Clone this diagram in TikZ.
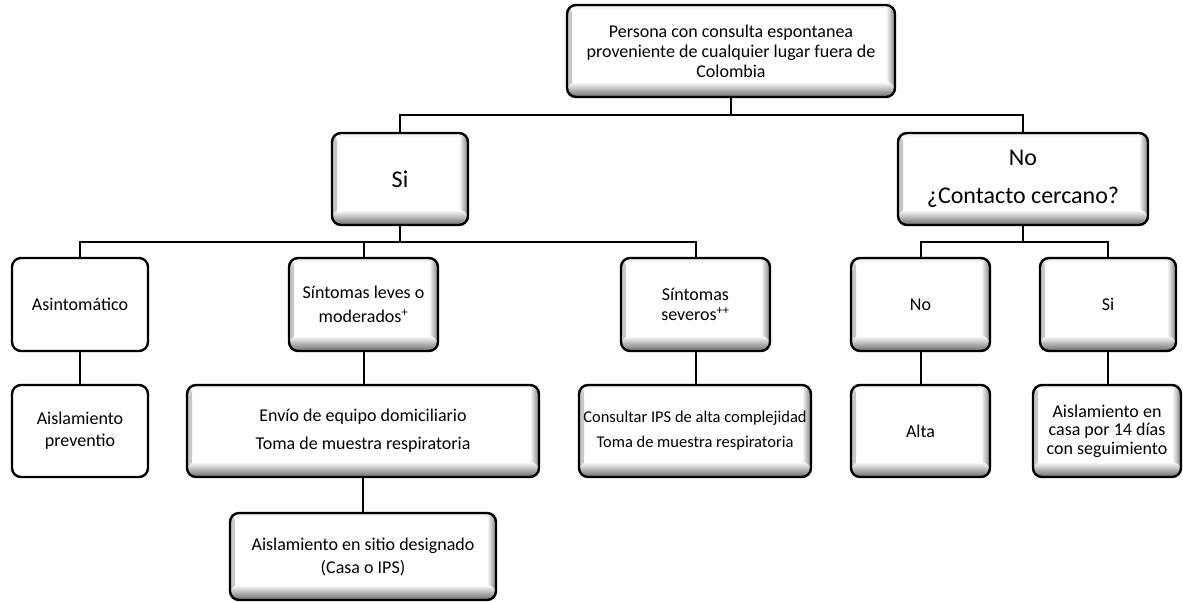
\documentclass[tikz,border=0pt]{standalone}
\usepackage{fontspec}
\setmainfont{Carlito}
\begin{document}
\begin{tikzpicture}[x=1pt,y=-1pt,
  box/.style={draw=black, line width=2.4pt, rounded corners=9pt, fill=white,
     inner sep=0pt, align=center, font=\fontsize{18}{20}\selectfont},
  bevel/.style={box, path picture={
     \shade[left color=black!22, right color=white]
       (path picture bounding box.north west) rectangle ([xshift=5pt]path picture bounding box.south west);
     \shade[top color=black!12, bottom color=white]
       (path picture bounding box.north west) rectangle ([yshift=-4pt]path picture bounding box.north east);
     \shade[left color=white, right color=black!50]
       ([xshift=-9pt]path picture bounding box.north east) rectangle (path picture bounding box.south east);
     \shade[top color=white, bottom color=black!58]
       ([yshift=15pt]path picture bounding box.south west) rectangle (path picture bounding box.south east);
  }},
  plainbox/.style={box},
  link/.style={line width=2pt, draw=black}
]
\useasboundingbox (0,0) rectangle (1183,602);

% level 0
\node[bevel, minimum width=328pt, minimum height=92pt] (top) at (731,51)
  {Persona con consulta espontanea\\proveniente de cualquier lugar fuera de\\Colombia};

% level 1
\node[bevel, minimum width=136pt, minimum height=92pt, font=\fontsize{24}{30}\selectfont] (si) at (400,179) {Si};
\node[bevel, minimum width=250pt, minimum height=92pt, font=\fontsize{24}{38}\selectfont] (no) at (1023,179)
  {No\\¿Contacto cercano?};

% level 2
\node[plainbox, minimum width=136pt, minimum height=93pt] (asin) at (80,304.5) {Asintomático};
\node[bevel, minimum width=149pt, minimum height=93pt, font=\fontsize{18}{24}\selectfont] (lev) at (363.5,304.5)
  {Síntomas leves o\\moderados\textsuperscript{+}};
\node[bevel, minimum width=149pt, minimum height=93pt] (sev) at (695.5,304.5)
  {Síntomas\\severos\textsuperscript{++}};
\node[bevel, minimum width=139pt, minimum height=93pt] (nno) at (920.5,304.5) {No};
\node[bevel, minimum width=136pt, minimum height=93pt] (nsi) at (1108,304.5) {Si};

% level 3
\node[plainbox, minimum width=136pt, minimum height=92pt, font=\fontsize{18}{22}\selectfont] (prev) at (80,431)
  {Aislamiento\\preventio};
\node[bevel, minimum width=352pt, minimum height=92pt, font=\fontsize{18}{28}\selectfont] (envio) at (363,431)
  {Envío de equipo domiciliario\\Toma de muestra respiratoria};
\node[bevel, minimum width=232pt, minimum height=92pt, font=\fontsize{16.5}{25}\selectfont] (cons) at (695,431)
  {Consultar IPS de alta complejidad\\Toma de muestra respiratoria};
\node[bevel, minimum width=139pt, minimum height=92pt] (alta) at (920.5,431) {Alta};
\node[bevel, minimum width=148pt, minimum height=92pt, font=\fontsize{18}{18.5}\selectfont] (casa) at (1107,431)
  {Aislamiento en\\casa por 14 días\\con seguimiento};

% level 4
\node[bevel, minimum width=266pt, minimum height=87pt, font=\fontsize{18}{23}\selectfont] (sitio) at (363,556.5)
  {Aislamiento en sitio designado\\(Casa o IPS)};

% junctions
\coordinate (b1) at (731,115);
\coordinate (b2) at (400,242);
\coordinate (b3) at (1023,242);

% connectors
\draw[link] (top.south) -- (b1);
\draw[link] (si.north) |- (b1) -| (no.north);
\draw[link] (si.south) -- (b2);
\draw[link] (asin.north) |- (b2) -| (sev.north);
\draw[link] (lev.north) -- (lev.north |- b2);
\draw[link] (no.south) -- (b3);
\draw[link] (nno.north) |- (b3) -| (nsi.north);
\draw[link] (asin.south) -- (prev.north);
\draw[link] (lev.south) -- (lev.south |- envio.north);
\draw[link] (sev.south) -- (sev.south |- cons.north);
\draw[link] (nno.south) -- (nno.south |- alta.north);
\draw[link] (nsi.south) -- (nsi.south |- casa.north);
\draw[link] (envio.south) -- (sitio.north);
\end{tikzpicture}
\end{document}
